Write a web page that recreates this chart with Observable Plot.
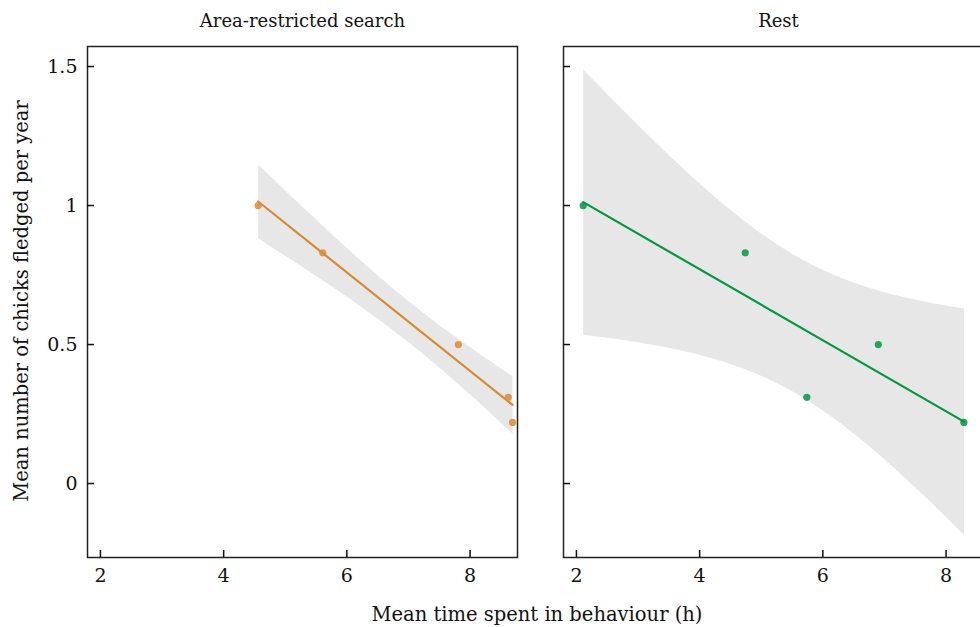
<!DOCTYPE html>
<html><head><meta charset="utf-8">
<script src="https://cdn.jsdelivr.net/npm/d3@7"></script>
<script src="https://cdn.jsdelivr.net/npm/@observablehq/plot@0.6"></script>
<style>
html,body{margin:0;padding:0;overflow:hidden;background:#fff;}
#wrap{position:relative;width:980px;height:627px;overflow:hidden;font-family:"DejaVu Serif",serif;color:#111;}
#wrap svg{max-width:none;display:block;}
.lab{position:absolute;font-size:19.5px;white-space:nowrap;}
#xlab{left:537px;top:614px;transform:translate(-50%,-50%);}
#ylab{left:21px;top:301px;transform:translate(-50%,-50%) rotate(-90deg);}
</style></head><body>
<div id="wrap"><div id="xlab" class="lab"></div><div id="ylab" class="lab"></div></div>
<script>
const behaviours = ["Area-restricted search", "Rest"];
const colours = ["#d88a32", "#00993f"];
const arsHours = [4.56, 5.61, 7.81, 8.62, 8.69];
const arsChicks = [1.00, 0.83, 0.50, 0.31, 0.22];
const restHours = [2.11, 4.74, 5.74, 6.90, 8.29];
const restChicks = [1.00, 0.83, 0.31, 0.50, 0.22];
const xTicks = [2, 4, 6, 8];
const yTicks = [0, 0.5, 1, 1.5];
const xLabel = "Mean time spent in behaviour (h)";
const yLabel = "Mean number of chicks fledged per year";

document.getElementById("xlab").textContent = xLabel;
document.getElementById("ylab").textContent = yLabel;

const rows = [
  ...arsHours.map((h, i) => ({behaviour: behaviours[0], hours: h, chicks: arsChicks[i]})),
  ...restHours.map((h, i) => ({behaviour: behaviours[1], hours: h, chicks: restChicks[i]}))
];

const chart = Plot.plot({
  width: 1000, height: 627,
  marginLeft: 86, marginRight: 6, marginTop: 46, marginBottom: 70,
  style: {fontFamily: "DejaVu Serif", fontSize: "18px", color: "#111", background: "#fff"},
  fx: {domain: behaviours, paddingInner: 0.096, paddingOuter: 0, label: null},
  x: {domain: [1.79, 8.77]},
  y: {domain: [-0.266, 1.572]},
  color: {domain: behaviours, range: colours},
  marks: [
    Plot.linearRegressionY(rows, {fx: "behaviour", x: "hours", y: "chicks", stroke: "behaviour", fill: "#e7e7e7", fillOpacity: 1, strokeWidth: 2.2}),
    Plot.dot(rows, {fx: "behaviour", x: "hours", y: "chicks", fill: "behaviour", r: 3.6, fillOpacity: 0.85}),
    Plot.frame({stroke: "#222", strokeWidth: 1.5}),
    Plot.axisFx({anchor: "top", tickSize: 0, tickPadding: 20, label: null}),
    Plot.axisY({ticks: yTicks, tickSize: 7, dx: 7, fill: "none", stroke: "#111", strokeWidth: 1.5, facetAnchor: null, label: null}),
    Plot.axisY({ticks: yTicks, tickSize: 0, tickPadding: 10, fontSize: 19, tickFormat: d => String(d), label: null}),
    Plot.axisX({ticks: xTicks, tickSize: 7, dy: -7, fill: "none", stroke: "#111", strokeWidth: 1.5, label: null}),
    Plot.axisX({ticks: xTicks, tickSize: 0, tickPadding: 11, fontSize: 19, tickFormat: d => String(d), label: null})
  ]
});
document.getElementById("wrap").prepend(chart);
</script>
</body></html>
